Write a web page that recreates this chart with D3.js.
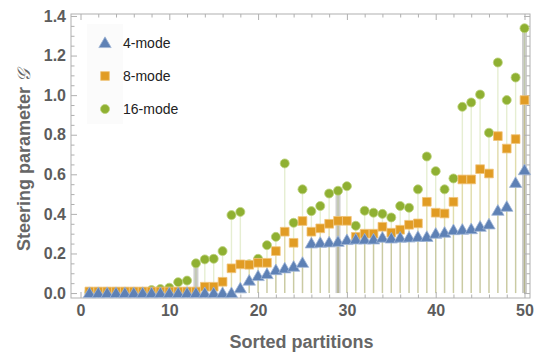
<!DOCTYPE html>
<html lang="en">
  <head>
    <meta charset="UTF-8">
    <title>Steering parameter</title>
    <script src="https://d3js.org/d3.v7.min.js"></script>
    <style>
      body { margin: 0; background: #fff; }
      text { font-family: "Liberation Sans", Arial, sans-serif; }
    </style>
  </head>
  <body>
    <script>
      const partitions = [1,2,3,4,5,6,7,8,9,10,11,12,13,14,15,16,17,18,19,20,
                          21,22,23,24,25,26,27,28,29,30,31,32,33,34,35,36,37,38,39,40,
                          41,42,43,44,45,46,47,48,49,50];
      const mode4 = [0,0,0,0,0,0,0,0,0,0,0,0,0,0,0,0,0,0.024,0.063,0.086,
                     0.096,0.116,0.125,0.133,0.153,0.251,0.254,0.256,0.259,0.268,
                     0.271,0.271,0.271,0.28,0.276,0.28,0.281,0.284,0.284,0.30,
                     0.305,0.318,0.32,0.323,0.335,0.347,0.416,0.436,0.557,0.621];
      const mode8 = [0.008,0.008,0.008,0.008,0.008,0.008,0.008,0.008,0.008,0.008,
                     0.008,0.008,0.008,0.032,0.032,0.057,0.125,0.145,0.143,0.153,
                     0.153,0.212,0.31,0.254,0.364,0.31,0.327,0.35,0.365,0.365,
                     0.284,0.30,0.30,0.335,0.305,0.32,0.345,0.352,0.461,0.406,
                     0.402,0.461,0.574,0.574,0.626,0.604,0.793,0.73,0.778,0.975];
      const mode16 = [0.004,0.004,0.004,0.004,0.004,0.005,0.006,0.015,0.02,0.027,
                      0.055,0.063,0.15,0.17,0.173,0.212,0.394,0.41,0.145,0.173,
                      0.242,0.284,0.655,0.355,0.524,0.414,0.44,0.503,0.517,0.54,
                      0.34,0.416,0.406,0.40,0.382,0.44,0.431,0.524,0.69,0.616,
                      0.524,0.579,0.941,0.963,1.003,0.81,1.165,0.975,1.089,1.338];
      const highlighted = [13, 29, 50];
      const seriesNames = ["4-mode", "8-mode", "16-mode"];
      const xTicks = [0, 10, 20, 30, 40, 50];
      const yTicks = [0, 0.2, 0.4, 0.6, 0.8, 1.0, 1.2, 1.4];

      const w = 536, h = 353;
      const plotL = 71, plotR = 530, plotT = 14, plotB = 298;
      const colors = ["#5e81b5", "#e19c24", "#8fb032"];
      const edges = ["#9fb5d6", "#f0c47a", "#bcd27c"];
      const tickColor = "#b0b0b0";
      const labelColor = "#5c5c5c";

      const svg = d3.select("body").append("svg")
        .attr("width", w).attr("height", h);

      const x = d3.scaleLinear().domain([-1.07, 50.62]).range([plotL, plotR]);
      const y = d3.scaleLinear().domain([-0.025, 1.41]).range([plotB, plotT]);

      const series = [mode4, mode8, mode16].map((vals, k) =>
        partitions.map((p, i) => ({ p: p, v: vals[i], k: k })));

      // faint legend backdrop
      svg.append("rect")
        .attr("x", 87).attr("y", 24).attr("width", 36).attr("height", 100)
        .attr("fill", "#fbfbfb");

      // highlighted partitions (gray bars)
      const peak = d => Math.max(mode4[d - 1], mode8[d - 1], mode16[d - 1]);
      svg.selectAll("rect.hl")
        .data(highlighted)
        .enter().append("rect")
        .attr("class", "hl")
        .attr("x", d => x(d) - 2.5)
        .attr("width", 5)
        .attr("y", d => y(peak(d)))
        .attr("height", d => y(0) - y(peak(d)))
        .attr("fill", "#bdbdbd")
        .attr("opacity", 0.75);

      // filling to axis
      series.forEach((s, k) => {
        svg.append("g").selectAll("line")
          .data(s)
          .enter().append("line")
          .attr("x1", d => x(d.p)).attr("x2", d => x(d.p))
          .attr("y1", y(0)).attr("y2", d => y(d.v))
          .attr("stroke", colors[k])
          .attr("stroke-opacity", 0.22)
          .attr("stroke-width", 1.4);
      });

      // frame
      svg.append("rect")
        .attr("x", plotL).attr("y", plotT)
        .attr("width", plotR - plotL).attr("height", plotB - plotT)
        .attr("fill", "none").attr("stroke", tickColor).attr("stroke-width", 1);

      const xMinor = d3.range(0, 51, 2).filter(t => t % 10 !== 0);
      const yMinor = d3.range(0, 1.41, 0.05).filter(t => Math.abs(t * 5 - Math.round(t * 5)) > 1e-6);

      function styleAxis(g) {
        g.select(".domain").remove();
        g.selectAll(".tick line").attr("stroke", tickColor);
        g.selectAll(".tick text")
          .attr("fill", labelColor)
          .style("font-size", "16px")
          .style("font-weight", "bold")
          .style("font-family", "'Liberation Sans', Arial, sans-serif");
      }

      svg.append("g").attr("transform", `translate(0,${plotB})`)
        .call(d3.axisBottom(x).tickValues(xTicks).tickFormat(d3.format("d"))
          .tickSizeInner(-6).tickSizeOuter(0).tickPadding(7))
        .call(styleAxis);
      svg.append("g").attr("transform", `translate(0,${plotB})`)
        .call(d3.axisBottom(x).tickValues(xMinor).tickFormat("").tickSizeInner(-3.5).tickSizeOuter(0))
        .call(styleAxis);
      svg.append("g").attr("transform", `translate(0,${plotT})`)
        .call(d3.axisTop(x).tickValues(xTicks).tickFormat("").tickSizeInner(-6).tickSizeOuter(0))
        .call(styleAxis);
      svg.append("g").attr("transform", `translate(0,${plotT})`)
        .call(d3.axisTop(x).tickValues(xMinor).tickFormat("").tickSizeInner(-3.5).tickSizeOuter(0))
        .call(styleAxis);

      svg.append("g").attr("transform", `translate(${plotL},0)`)
        .call(d3.axisLeft(y).tickValues(yTicks).tickFormat(d3.format(".1f"))
          .tickSizeInner(-6).tickSizeOuter(0).tickPadding(5))
        .call(styleAxis);
      svg.append("g").attr("transform", `translate(${plotL},0)`)
        .call(d3.axisLeft(y).tickValues(yMinor).tickFormat("").tickSizeInner(-3.5).tickSizeOuter(0))
        .call(styleAxis);
      svg.append("g").attr("transform", `translate(${plotR},0)`)
        .call(d3.axisRight(y).tickValues(yTicks).tickFormat("").tickSizeInner(-6).tickSizeOuter(0))
        .call(styleAxis);
      svg.append("g").attr("transform", `translate(${plotR},0)`)
        .call(d3.axisRight(y).tickValues(yMinor).tickFormat("").tickSizeInner(-3.5).tickSizeOuter(0))
        .call(styleAxis);

      // markers
      const symbols = [
        d3.symbol().type(d3.symbolTriangle).size(66),
        d3.symbol().type(d3.symbolSquare).size(76),
        d3.symbol().type(d3.symbolCircle).size(64)
      ];
      const drawOrder = [2, 1, 0];
      drawOrder.forEach(k => {
        svg.append("g").selectAll("path")
          .data(series[k])
          .enter().append("path")
          .attr("d", symbols[k])
          .attr("transform", d => `translate(${x(d.p)},${y(d.v) + (k === 0 ? 1 : 0)})`)
          .attr("fill", colors[k])
          .attr("stroke", edges[k])
          .attr("stroke-width", 0.8);
      });

      // legend
      const legend = svg.append("g");
      seriesNames.forEach((name, k) => {
        const ly = 43 + k * 33;
        legend.append("path")
          .attr("d", symbols[k])
          .attr("transform", `translate(105,${ly + (k === 0 ? 1 : 0)})`)
          .attr("fill", colors[k])
          .attr("stroke", edges[k])
          .attr("stroke-width", 0.8);
        legend.append("text")
          .attr("x", 123).attr("y", ly + 5)
          .attr("fill", "#222")
          .style("font-size", "14px")
          .text(name);
      });

      // axis titles
      svg.append("text")
        .attr("x", (plotL + plotR) / 2 + 1).attr("y", 348)
        .attr("text-anchor", "middle")
        .attr("fill", "#666")
        .style("font-size", "18px")
        .style("font-weight", "bold")
        .text("Sorted partitions");

      const yt = svg.append("text")
        .attr("transform", "translate(30,160) rotate(-90)")
        .attr("text-anchor", "middle")
        .attr("fill", "#666")
        .style("font-size", "18px")
        .style("font-weight", "bold");
      yt.append("tspan").text("Steering parameter ");
      yt.append("tspan")
        .style("font-weight", "normal")
        .style("font-style", "italic")
        .style("font-family", "'DejaVu Serif', serif")
        .text("𝒢");
    </script>
  </body>
</html>
